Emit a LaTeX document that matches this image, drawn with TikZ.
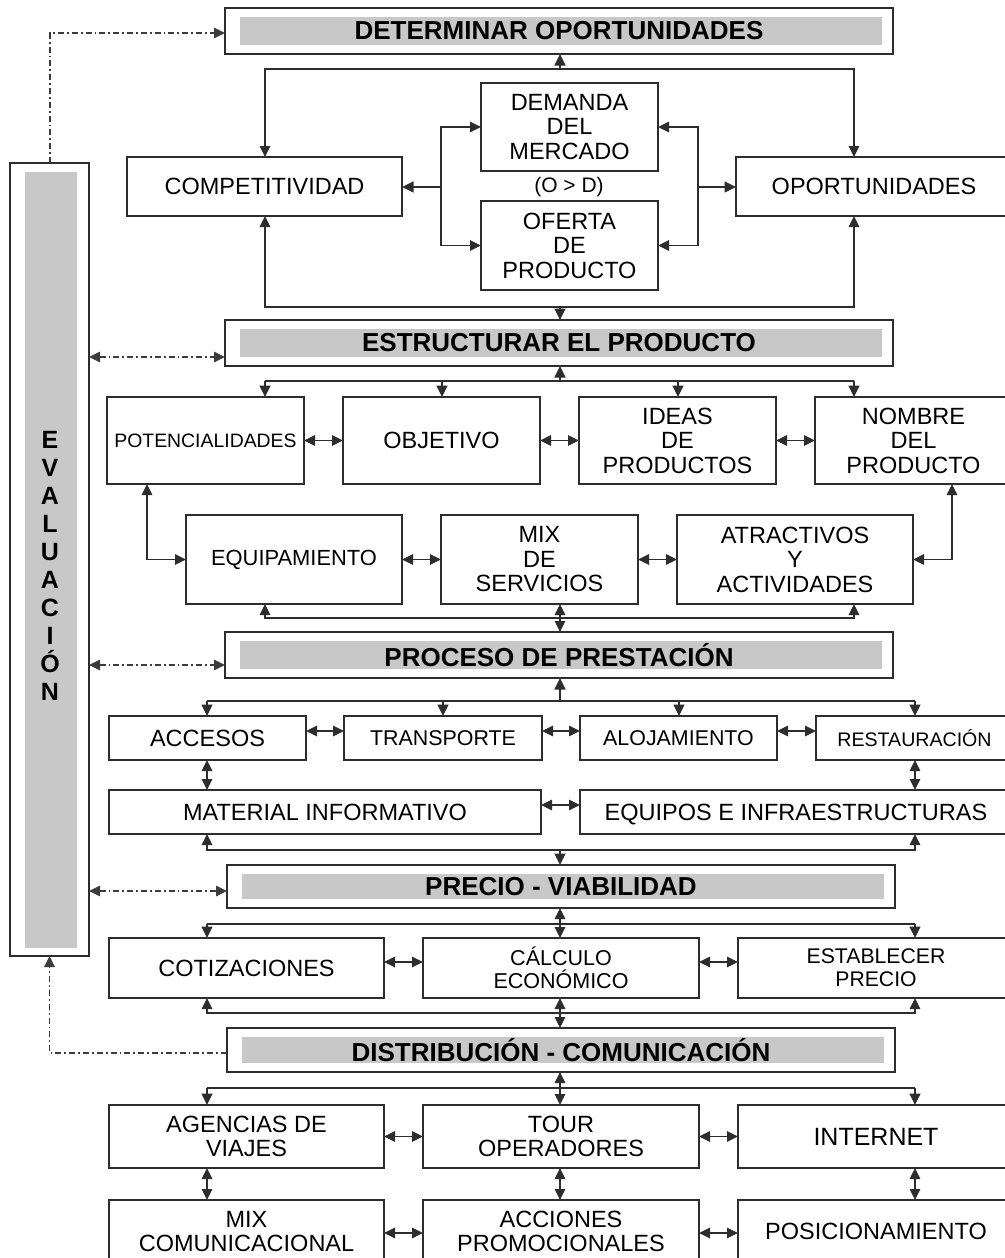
\documentclass[tikz,border=0pt]{standalone}
\usepackage{fontspec}
\setmainfont{Liberation Sans}
\usetikzlibrary{arrows.meta}
\definecolor{ln}{RGB}{45,45,45}
\definecolor{barcol}{RGB}{200,200,200}
\definecolor{ddcol}{RGB}{60,60,60}
\begin{document}
\begin{tikzpicture}[x=1pt,y=-1pt,
 box/.style={draw=ln, line width=1.6pt, inner sep=0pt, outer sep=0pt, align=center, font=\fontsize{23.5}{24.5}\selectfont},
 hdr/.style={draw=ln, line width=1.6pt, inner sep=0pt, outer sep=0pt, font=\fontsize{26}{28}\selectfont\bfseries,
   path picture={\fill[barcol] ([xshift=15pt,yshift=-9pt]path picture bounding box.north west) rectangle ([xshift=-11pt,yshift=9pt]path picture bounding box.south east);}},
 conn/.style={draw=ln, line width=1.6pt},
 arr/.style={conn, -{Triangle[length=11.5pt,width=11pt]}},
 dbl/.style={conn, {Triangle[length=11pt,width=10.5pt]}-{Triangle[length=11pt,width=10.5pt]}},
 dd/.style={draw=ddcol, line width=1.5pt, dash pattern=on 6pt off 3pt on 1.8pt off 3pt},
 ddtip/.style={dd, -{Triangle[length=11pt,width=10.5pt]}},
 dddbl/.style={dd, {Triangle[length=11pt,width=10.5pt]}-{Triangle[length=11pt,width=10.5pt]}},
]
\useasboundingbox (0,0) rectangle (1004,1258);
\fill[white] (0,0) rectangle (1004,1258);

% ---------- headers ----------
\node[hdr, minimum width=668pt, minimum height=46pt] (det) at (559,31) {DETERMINAR OPORTUNIDADES};
\node[hdr, minimum width=668pt, minimum height=46pt] (est) at (559,343) {ESTRUCTURAR EL PRODUCTO};
\node[hdr, minimum width=668pt, minimum height=46pt] (pro) at (559,655) {PROCESO DE PRESTACIÓN};
\node[hdr, minimum width=668pt, minimum height=43pt] (pre) at (561,886.5) {PRECIO - VIABILIDAD};
\node[hdr, minimum width=668pt, minimum height=44pt] (dis) at (561,1050) {DISTRIBUCIÓN - COMUNICACIÓN};

% ---------- evaluation column ----------
\node[draw=ln, line width=1.6pt, inner sep=0pt, outer sep=0pt, minimum width=79pt, minimum height=793pt,
  path picture={\fill[barcol] ([xshift=15pt,yshift=-9pt]path picture bounding box.north west) rectangle ([xshift=-12pt,yshift=8pt]path picture bounding box.south east);}] (eval) at (49.5,559.5) {};
\node[font=\fontsize{25}{28}\selectfont\bfseries, align=center, inner sep=0pt] (evaltxt) at (50,566) {E\\V\\A\\L\\U\\A\\C\\I\\Ó\\N};

% ---------- section 1 ----------
\node[box, minimum width=275pt, minimum height=59pt] (comp) at (264.5,186.5) {COMPETITIVIDAD};
\node[box, minimum width=276pt, minimum height=59pt] (opor) at (874,186.5) {OPORTUNIDADES};
\node[box, minimum width=177pt, minimum height=88pt] (dem) at (569.5,127) {DEMANDA\\DEL\\MERCADO};
\node[box, minimum width=177pt, minimum height=89pt] (ofe) at (569.5,245.5) {OFERTA\\DE\\PRODUCTO};
\node[font=\fontsize{21}{21}\selectfont, inner sep=0pt] (od) at (569,187) {(O > D)};

% ---------- section 2 ----------
\node[box, minimum width=197pt, minimum height=87pt, font=\fontsize{19.4}{21}\selectfont] (pot) at (205.5,440.5) {POTENCIALIDADES};
\node[box, minimum width=197pt, minimum height=87pt] (obj) at (441.5,440.5) {OBJETIVO};
\node[box, minimum width=197pt, minimum height=87pt] (ide) at (677.5,440.5) {IDEAS\\DE\\PRODUCTOS};
\node[box, minimum width=197pt, minimum height=87pt] (nom) at (913.5,440.5) {NOMBRE\\DEL\\PRODUCTO};
\node[box, minimum width=216pt, minimum height=89pt, font=\fontsize{21.9}{23}\selectfont] (equ) at (294,559.5) {EQUIPAMIENTO};
\node[box, minimum width=197pt, minimum height=89pt] (mix) at (539.5,559.5) {MIX\\DE\\SERVICIOS};
\node[box, minimum width=236pt, minimum height=89pt] (atr) at (795,559.5) {ATRACTIVOS\\Y\\ACTIVIDADES};

% ---------- section 3 ----------
\node[box, minimum width=197pt, minimum height=44pt] (acc) at (207.5,738) {ACCESOS};
\node[box, minimum width=198pt, minimum height=44pt, font=\fontsize{21.4}{23}\selectfont] (tra) at (443,738) {TRANSPORTE};
\node[box, minimum width=197pt, minimum height=44pt, font=\fontsize{21.4}{23}\selectfont] (alo) at (678.5,738) {ALOJAMIENTO};
\node[box, minimum width=197pt, minimum height=44pt, font=\fontsize{19.6}{21}\selectfont] (res) at (914.5,738) {RESTAURACIÓN};
\node[box, minimum width=432pt, minimum height=44pt] (mat) at (325,812) {MATERIAL INFORMATIVO};
\node[box, minimum width=432pt, minimum height=44pt, text depth=0pt] (eqi) at (796,812) {EQUIPOS E INFRAESTRUCTURAS};

% ---------- section 4 ----------
\node[box, minimum width=275pt, minimum height=60pt] (cot) at (246.5,968) {COTIZACIONES};
\node[box, minimum width=276pt, minimum height=60pt, font=\fontsize{21.5}{23}\selectfont] (cal) at (561,968) {CÁLCULO\\ECONÓMICO};
\node[box, minimum width=276pt, minimum height=60pt, font=\fontsize{21.2}{23}\selectfont] (esp) at (876,968) {ESTABLECER\\PRECIO};

% ---------- section 5 ----------
\node[box, minimum width=275pt, minimum height=63pt] (age) at (246.5,1136.5) {AGENCIAS DE\\VIAJES};
\node[box, minimum width=276pt, minimum height=63pt] (tou) at (561,1136.5) {TOUR\\OPERADORES};
\node[box, minimum width=276pt, minimum height=63pt, font=\fontsize{25}{26}\selectfont] (int) at (876,1136.5) {INTERNET};
\node[box, minimum width=275pt, minimum height=63pt] (mixc) at (246.5,1231.5) {MIX\\COMUNICACIONAL};
\node[box, minimum width=276pt, minimum height=63pt] (acci) at (561,1231.5) {ACCIONES\\PROMOCIONALES};
\node[box, minimum width=276pt, minimum height=63pt] (pos) at (876,1231.5) {POSICIONAMIENTO};

% ---------- connectors section 1 ----------
\draw[dbl] (265,0 |- comp.north) |- (854,69) -- (854,0 |- opor.north);
\draw[arr] (560,69) -- (560,0 |- det.south);
\draw[dbl] (265,0 |- comp.south) |- (854,307) -- (854,0 |- opor.south);
\draw[arr] (560,307) -- (560,0 |- est.north);
\draw[dbl] (dem.west) -| (441,187) |- (ofe.west);
\draw[arr] (441,187) -- (comp.east |- 0,187);
\draw[dbl] (dem.east) -| (698,187) |- (ofe.east);
\draw[arr] (698,187) -- (opor.west |- 0,187);

% ---------- connectors section 2 ----------
\draw[arr] (560,381) -- (560,0 |- est.south);
\draw[conn] (265,381) -- (854,381);
\draw[arr] (265,381) -- (265,0 |- pot.north);
\draw[arr] (442,381) -- (442,0 |- obj.north);
\draw[arr] (678,381) -- (678,0 |- ide.north);
\draw[arr] (854,381) -- (854,0 |- nom.north);
\draw[dbl] (pot.east) -- (obj.west);
\draw[dbl] (obj.east) -- (ide.west);
\draw[dbl] (ide.east) -- (nom.west);
\draw[dbl] (147,0 |- pot.south) |- (equ.west);
\draw[dbl] (952,0 |- nom.south) |- (atr.east);
\draw[dbl] (equ.east) -- (mix.west);
\draw[dbl] (mix.east) -- (atr.west);
\draw[dbl] (265,0 |- equ.south) |- (854,618) -- (854,0 |- atr.south);
\draw[dbl] (560,0 |- mix.south) -- (560,0 |- pro.north);

% ---------- connectors section 3 ----------
\draw[arr] (560,701) -- (560,0 |- pro.south);
\draw[conn] (207,701) -- (915,701);
\draw[arr] (207,701) -- (207,0 |- acc.north);
\draw[arr] (443,701) -- (443,0 |- tra.north);
\draw[arr] (679,701) -- (679,0 |- alo.north);
\draw[arr] (915,701) -- (915,0 |- res.north);
\draw[dbl] (acc.east |- 0,731) -- (tra.west |- 0,731);
\draw[dbl] (tra.east |- 0,731) -- (alo.west |- 0,731);
\draw[dbl] (alo.east |- 0,731) -- (res.west |- 0,731);
\draw[dbl] (207,0 |- acc.south) -- (207,0 |- mat.north);
\draw[dbl] (915,0 |- res.south) -- (915,0 |- eqi.north);
\draw[dbl] (mat.east |- 0,805) -- (eqi.west |- 0,805);
\draw[dbl] (207,0 |- mat.south) |- (915,850) -- (915,0 |- eqi.south);
\draw[arr] (560,850) -- (560,0 |- pre.north);

% ---------- connectors section 4 ----------
\draw[dbl] (560,0 |- pre.south) -- (560,0 |- cal.north);
\draw[conn] (207,924) -- (915,924);
\draw[arr] (207,924) -- (207,0 |- cot.north);
\draw[arr] (915,924) -- (915,0 |- esp.north);
\draw[dbl] (cot.east |- 0,962) -- (cal.west |- 0,962);
\draw[dbl] (cal.east |- 0,962) -- (esp.west |- 0,962);
\draw[dbl] (207,0 |- cot.south) |- (915,1013) -- (915,0 |- esp.south);
\draw[dbl] (560,0 |- cal.south) -- (560,0 |- dis.north);

% ---------- connectors section 5 ----------
\draw[dbl] (560,0 |- dis.south) -- (560,0 |- tou.north);
\draw[conn] (207,1088) -- (915,1088);
\draw[arr] (207,1088) -- (207,0 |- age.north);
\draw[arr] (915,1088) -- (915,0 |- int.north);
\draw[dbl] (age.east) -- (tou.west);
\draw[dbl] (tou.east) -- (int.west);
\draw[dbl] (207,0 |- age.south) -- (207,0 |- mixc.north);
\draw[dbl] (560,0 |- tou.south) -- (560,0 |- acci.north);
\draw[dbl] (915,0 |- int.south) -- (915,0 |- pos.north);
\draw[dbl] (mixc.east |- 0,1233) -- (acci.west |- 0,1233);
\draw[dbl] (acci.east |- 0,1233) -- (pos.west |- 0,1233);

% ---------- evaluation feedback ----------
\draw[ddtip] (50,0 |- eval.north) |- (det.west |- 0,33);
\draw[dddbl] (eval.east |- 0,357) -- (est.west |- 0,357);
\draw[dddbl] (eval.east |- 0,665) -- (pro.west |- 0,665);
\draw[dddbl] (eval.east |- 0,891) -- (pre.west |- 0,891);
\draw[ddtip] (dis.west |- 0,1053) -| (eval.south);
\end{tikzpicture}
\end{document}
